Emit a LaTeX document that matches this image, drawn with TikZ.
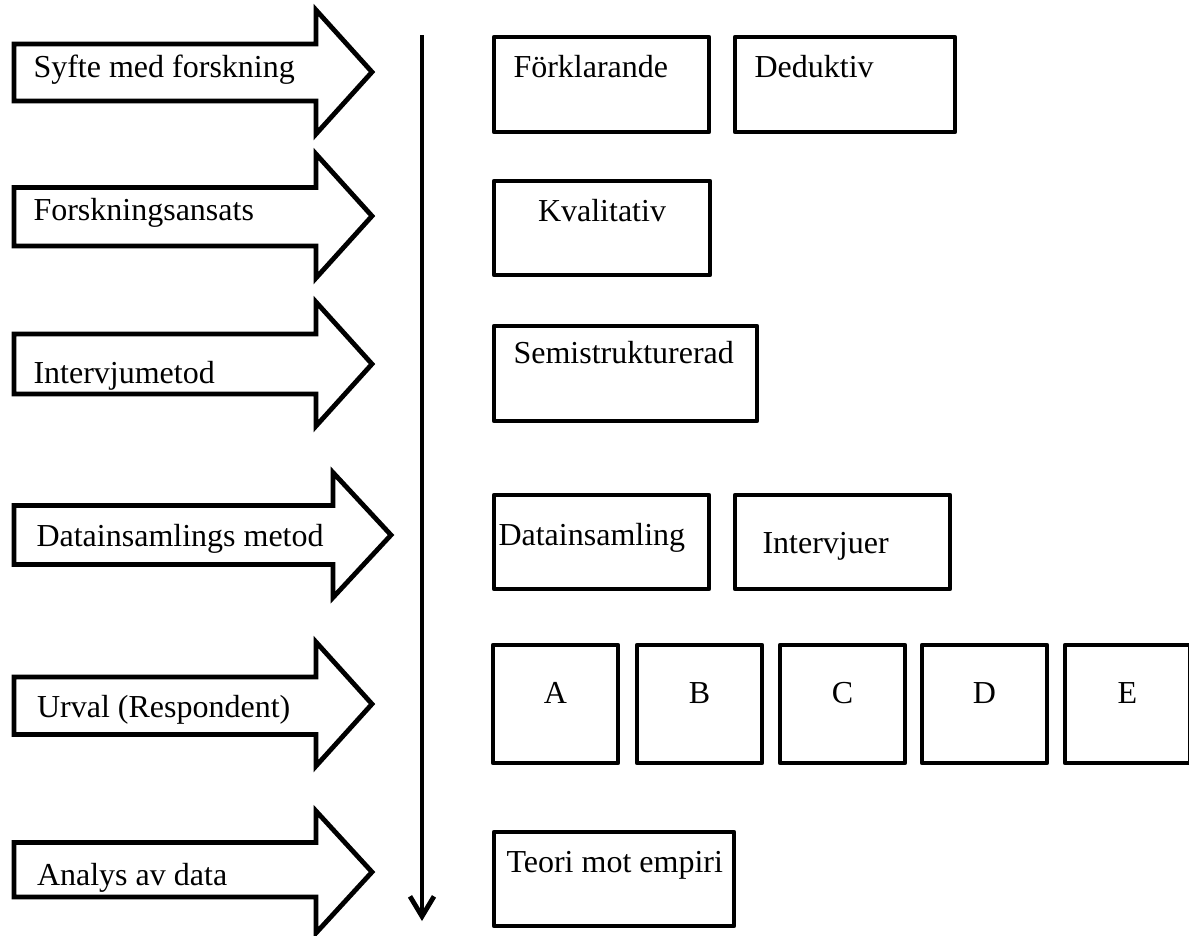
\documentclass[tikz,border=0pt]{standalone}
\usepackage{fontspec}
\setmainfont{Liberation Serif}
\usetikzlibrary{arrows.meta,fit}
\tikzset{
  pil/.style={draw, line width=1.8pt, line join=miter, fill=white},
  ruta/.style={draw, line width=1.8pt, line join=round, inner sep=0pt},
  etikett/.style={anchor=base west, inner sep=0pt, font=\fontsize{12}{14}\selectfont},
  bokstav/.style={anchor=base, inner sep=0pt, font=\fontsize{12}{14}\selectfont},
}
\begin{document}
\begin{tikzpicture}[x=0.375pt,y=-0.375pt]
\useasboundingbox (0,0) rectangle (1189,935);
% pilar till vaenster
\draw[pil] (14,44) -- (316,44) -- (316,10) -- (372,72) -- (316,134) -- (316,101) -- (14,101) -- cycle;
\draw[pil] (14,187.5) -- (316,187.5) -- (316,154) -- (372,216) -- (316,278) -- (316,246) -- (14,246) -- cycle;
\draw[pil] (14,334) -- (316,334) -- (316,302) -- (372,364) -- (316,426) -- (316,394) -- (14,394) -- cycle;
\draw[pil] (14,505.5) -- (333,505.5) -- (333,472.5) -- (391,535) -- (333,597.5) -- (333,564.5) -- (14,564.5) -- cycle;
\draw[pil] (14,677) -- (316,677) -- (316,642) -- (372,704) -- (316,766) -- (316,734.5) -- (14,734.5) -- cycle;
\draw[pil] (14,842.5) -- (316,842.5) -- (316,811) -- (372,872) -- (316,933) -- (316,897) -- (14,897) -- cycle;
\node[etikett] (syfte) at (33,77) {Syfte med forskning};
\node[etikett] (ansats) at (33,220) {Forskningsansats};
\node[etikett] (intmetod) at (33,383) {Intervjumetod};
\node[etikett] (datametod) at (36,546.5) {Datainsamlings metod};
\node[etikett] (urval) at (36.5,717) {Urval (Respondent)};
\node[etikett] (analys) at (36.5,885) {Analys av data};
% tidslinje
\coordinate (start) at (422,35);
\coordinate (slut) at (422,921);
\draw[line width=1.8pt, -{Straight Barb[length=7.5pt,width=9pt]}] (start) -- (slut);
% rutor till hoeger
\node[ruta, fit={(494,37) (709,132)}] (forkl) {};
\node[ruta, fit={(735,37) (955,132)}] (deduk) {};
\node[ruta, fit={(494,181) (710,275)}] (kval) {};
\node[ruta, fit={(494,326) (757,421)}] (semi) {};
\node[ruta, fit={(494,495) (709,589)}] (datains) {};
\node[ruta, fit={(735,495) (950,589)}] (intervj) {};
\node[ruta, fit={(494,832) (734,926)}] (teori) {};
\node[etikett] (forkltxt) at (513,77) {Förklarande};
\node[etikett] (deduktxt) at (754,77) {Deduktiv};
\node[bokstav] (kvaltxt) at (kval.center |- 0,221.5) {Kvalitativ};
\node[etikett] (semitxt) at (513,363) {Semistrukturerad};
\node[etikett] (datatxt) at (498,545) {Datainsamling};
\node[etikett] (intertxt) at (762,553) {Intervjuer};
\node[etikett] (teoritxt) at (506,872) {Teori mot empiri};
% respondenter
\foreach \namn/\xa in {A/493,B/637,C/780,D/922,E/1065}{
  \node[ruta, fit={(\xa,645) (\xa+125,763)}] (resp\namn) {};
  \node[bokstav] at (resp\namn.center |- 0,703) {\namn};
}
\end{tikzpicture}
\end{document}
